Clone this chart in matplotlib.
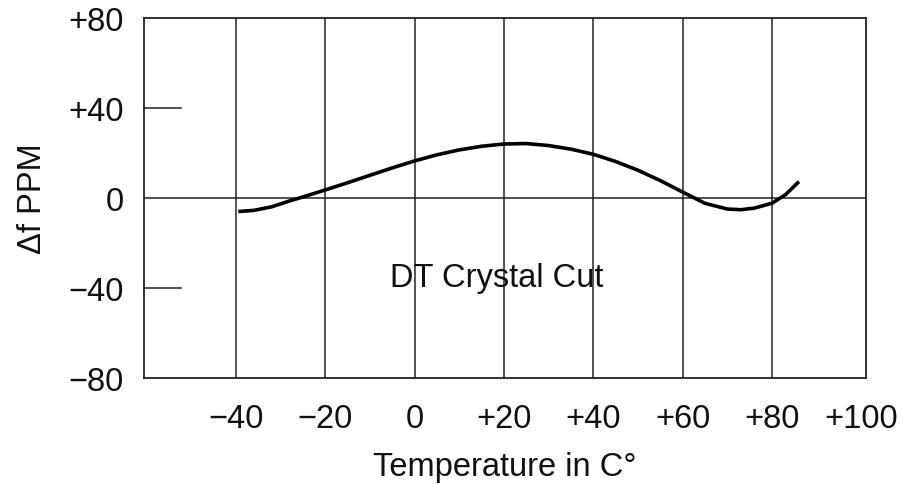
import matplotlib
matplotlib.use("Agg")
import matplotlib.pyplot as plt

# Frequency deviation of a DT-cut crystal versus temperature
temperature = [-39.5, -36, -32, -28, -24, -20, -15, -10, -5, 0, 5, 10, 15, 20, 25,
               30, 35, 40, 45, 50, 55, 60, 65, 70, 73, 76, 80, 83, 86]
delta_f_ppm = [-6.0, -5.5, -3.9, -1.3, 1.1, 3.6, 6.8, 10.1, 13.4, 16.5, 19.2, 21.4, 23.0, 24.0, 24.2,
               23.3, 21.7, 19.4, 16.2, 12.3, 7.7, 2.6, -2.4, -4.9, -5.2, -4.5, -2.3, 1.5, 7.3]

x_ticks = [-40, -20, 0, 20, 40, 60, 80, 100]
x_labels = ["\u221240", "\u221220", "0", "+20", "+40", "+60", "+80", "+100"]
y_ticks = [80, 40, 0, -40, -80]
y_labels = ["+80", "+40", "0", "\u221240", "\u221280"]

plt.rcParams["font.family"] = ["Liberation Sans", "DejaVu Sans"]

fig = plt.figure(figsize=(9.04, 4.85), dpi=100)
ax = fig.add_axes([143.5 / 904, 1 - 379 / 485, (866 - 143.5) / 904, (379 - 19) / 485])

xmin, xmax = -60.7, 101.0
ax.set_xlim(xmin, xmax)
ax.set_ylim(-80, 80)

line_col = "#222222"
for t in x_ticks[:-1]:
    ax.axvline(t, color=line_col, lw=1.1, zorder=1)
ax.axhline(0, color=line_col, lw=1.1, zorder=1)
for v in (40, -40):
    ax.plot([xmin, xmin + 8.5], [v, v], color=line_col, lw=1.1, zorder=1, clip_on=False)

ax.plot(temperature, delta_f_ppm, color="black", lw=2.6,
        solid_capstyle="butt", solid_joinstyle="round", zorder=3)

for s in ax.spines.values():
    s.set_color(line_col)
    s.set_linewidth(1.3)

fs = 23.5
ax.set_xticks(x_ticks)
ax.set_xticklabels(x_labels)
ax.set_yticks(y_ticks)
ax.set_yticklabels(y_labels)
ax.tick_params(length=0, labelsize=fs, colors="#111111")
ax.tick_params(axis="x", pad=18)
ax.tick_params(axis="y", pad=14)

ax.set_xlabel("Temperature in C\u00b0", fontsize=fs, color="#111111", labelpad=12)
ax.set_ylabel("\u0394f PPM", fontsize=fs, color="#111111", labelpad=15)

ax.text(18.4, -35.5, "DT Crystal Cut", fontsize=fs, ha="center", va="center", color="#111111")

fig.savefig("out.png", dpi=100)
